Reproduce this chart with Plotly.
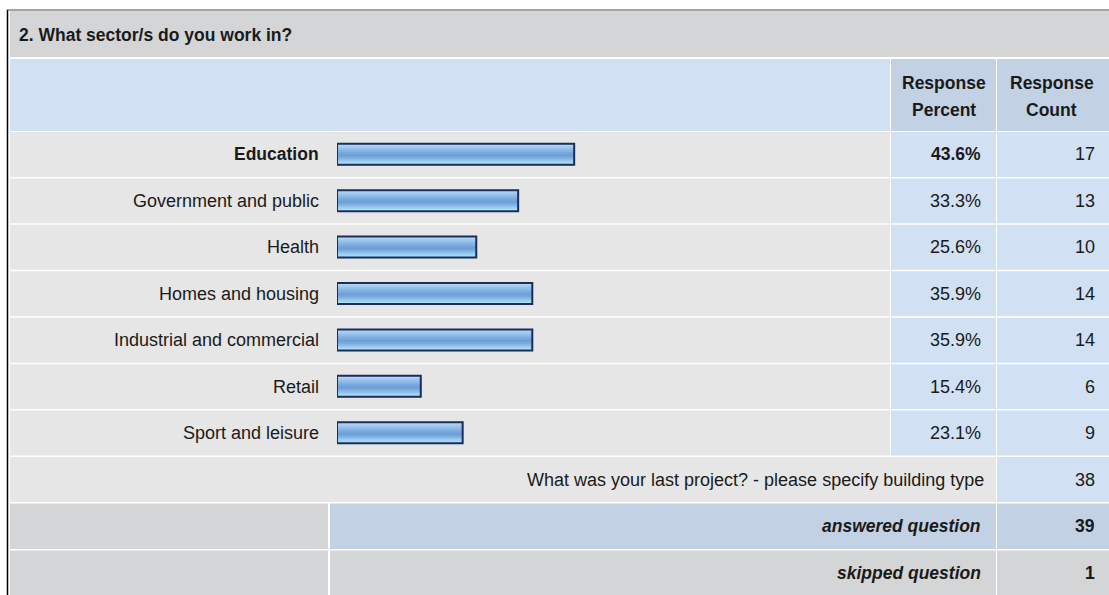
import plotly.graph_objects as go

# Survey results: question 2
question = "2. What sector/s do you work in?"
sectors = [
    "Education",
    "Government and public",
    "Health",
    "Homes and housing",
    "Industrial and commercial",
    "Retail",
    "Sport and leisure",
]
percents = [43.6, 33.3, 25.6, 35.9, 35.9, 15.4, 23.1]
counts = [17, 13, 10, 14, 14, 6, 9]
other_text = "What was your last project? - please specify building type"
other_count = 38
answered = 39
skipped = 1

W, H = 1109, 595
FONT = "Liberation Sans, Arial, Helvetica, sans-serif"
TXT = "#1a1a1a"

GRAY_DARK = "#d4d5d7"
GRAY_LIGHT = "#e6e6e6"
BLUE_LIGHT = "#d1e0f2"
BLUE_MID = "#c2d1e4"

# table geometry (pixels from top-left)
LEFT, RIGHT = 10, W
COL_PCT, COL_CNT = 891, 997
ROW_TOP, ROW_BOT = 131, 456
pitch = (ROW_BOT - ROW_TOP) / len(sectors)

# right edges of the text columns
X_LABEL, X_PCT, X_CNT = 321, 983, 1097


def px(x):
    return x / W


def py(y):
    return 1 - y / H


shapes = []


def cell(x0, y0, x1, y1, color):
    shapes.append(dict(type="rect", xref="paper", yref="paper", layer="below",
                       x0=px(x0), x1=px(x1), y0=py(y1), y1=py(y0),
                       fillcolor=color, line=dict(width=0)))


annotations = []


def label(text, x, y, anchor="right", size=18, bold=False, italic=False):
    annotations.append(dict(
        text=text, x=px(x), y=py(y), xref="paper", yref="paper",
        xanchor=anchor, yanchor="middle", showarrow=False,
        font=dict(family=FONT, size=size, color=TXT,
                  weight="bold" if bold else "normal",
                  style="italic" if italic else "normal"),
    ))


# title row
cell(LEFT, 11, RIGHT, 57, GRAY_DARK)
label(question, 17, 35, anchor="left", size=17.5, bold=True)

# column header row
cell(LEFT, 59, COL_PCT - 1, 131, BLUE_LIGHT)
cell(COL_PCT, 59, COL_CNT - 1, 131, BLUE_MID)
cell(COL_CNT, 59, RIGHT, 131, BLUE_MID)
for cx, (l1, l2) in [((COL_PCT + COL_CNT) / 2, ("Response", "Percent")),
                     ((COL_CNT + 1106) / 2, ("Response", "Count"))]:
    label(l1, cx, 83, anchor="center", size=17.5, bold=True)
    label(l2, cx, 110, anchor="center", size=17.5, bold=True)

# answer rows
top_pct = max(percents)
for i, (s, p, c) in enumerate(zip(sectors, percents, counts)):
    y0 = ROW_TOP + i * pitch + 1
    y1 = ROW_TOP + (i + 1) * pitch - 0.5
    cell(LEFT, y0, COL_PCT - 1, y1, GRAY_LIGHT)
    cell(COL_PCT, y0, COL_CNT - 1, y1, BLUE_LIGHT)
    cell(COL_CNT, y0, RIGHT, y1, BLUE_LIGHT)
    yc = (y0 + y1) / 2
    is_top = p == top_pct
    label(s, X_LABEL, yc, size=17.5 if is_top else 18, bold=is_top)
    label(f"{p:.1f}%", X_PCT, yc, size=17.5 if is_top else 18, bold=is_top)
    label(str(c), X_CNT, yc)

# open-ended row
cell(LEFT, 457, COL_CNT - 1, 502, GRAY_LIGHT)
cell(COL_CNT, 457, RIGHT, 502, BLUE_LIGHT)
label(other_text, 986, 479.5)
label(str(other_count), X_CNT, 479.5)

# summary rows
cell(LEFT, 503.5, 328, 549, GRAY_DARK)
cell(330, 503.5, COL_CNT - 1, 549, BLUE_MID)
cell(COL_CNT, 503.5, RIGHT, 549, BLUE_MID)
label("answered question", X_PCT, 526, size=17.5, bold=True, italic=True)
label(str(answered), X_CNT, 526, size=17.5, bold=True)

cell(LEFT, 550.5, 328, H, GRAY_DARK)
cell(330, 550.5, COL_CNT - 1, H, GRAY_DARK)
cell(COL_CNT, 550.5, RIGHT, H, GRAY_DARK)
label("skipped question", X_PCT, 572.5, size=17.5, bold=True, italic=True)
label(str(skipped), X_CNT, 572.5, size=17.5, bold=True)

# outer frame
shapes.append(dict(type="line", xref="paper", yref="paper", layer="above",
                   x0=px(7), x1=px(W), y0=py(10), y1=py(10),
                   line=dict(color="#4a4a4a", width=1.2)))
shapes.append(dict(type="line", xref="paper", yref="paper", layer="above",
                   x0=px(7.5), x1=px(7.5), y0=py(10), y1=0,
                   line=dict(color="#000000", width=1.5)))

# glossy bar: horizontal stripes from top to bottom
stripe_colors = ["#b6d6f4", "#a4caef", "#93bee9", "#84b2e3", "#77a7dc",
                 "#6e9fd7", "#78aadd", "#8abde8", "#9dcff0", "#ade1f6"]
BAR_H = 21 / pitch
sh = BAR_H / len(stripe_colors)

fig = go.Figure()
for k, col in enumerate(stripe_colors):
    fig.add_trace(go.Bar(
        x=percents, y=sectors, orientation="h",
        width=sh * 1.4, offset=-BAR_H / 2 + k * sh,
        marker=dict(color=col, line=dict(width=0)),
        hoverinfo="skip",
    ))
fig.add_trace(go.Bar(
    x=percents, y=sectors, orientation="h",
    width=BAR_H, offset=-BAR_H / 2,
    marker=dict(color="rgba(0,0,0,0)", line=dict(color="#1d2d5a", width=2)),
    hoverinfo="skip",
))

bar_x0, px_per_pct = 337, 5.44
fig.update_layout(
    width=W, height=H,
    margin=dict(l=0, r=0, t=0, b=0),
    paper_bgcolor="white", plot_bgcolor="rgba(0,0,0,0)",
    barmode="overlay", showlegend=False, hovermode=False,
    xaxis=dict(domain=[px(bar_x0), px(bar_x0 + 100 * px_per_pct)],
               range=[0, 100], visible=False, fixedrange=True),
    yaxis=dict(domain=[py(ROW_BOT), py(ROW_TOP)], type="category",
               categoryorder="array", categoryarray=sectors,
               autorange="reversed", visible=False, fixedrange=True),
    shapes=shapes, annotations=annotations,
)

fig.write_html("out.html", config={"displayModeBar": False})
